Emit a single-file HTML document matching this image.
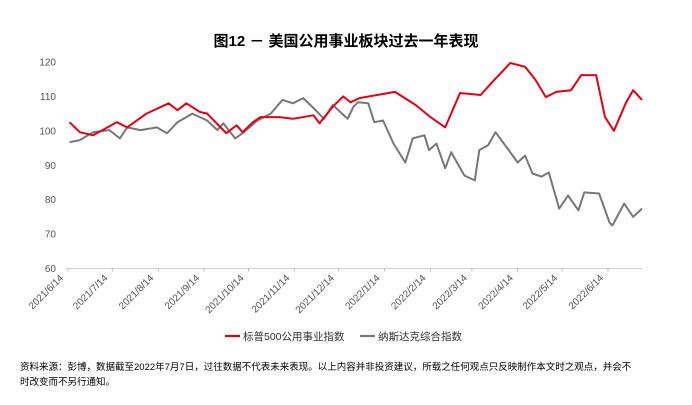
<!DOCTYPE html>
<html><head><meta charset="utf-8"><style>
body{margin:0;background:#fff;font-family:"Liberation Sans","Noto Sans CJK SC",sans-serif;}
</style></head><body>
<svg width="692" height="400" xmlns="http://www.w3.org/2000/svg" style="font-family:'Liberation Sans','Noto Sans CJK SC',sans-serif">
<text x="346" y="46" text-anchor="middle" font-size="15" font-weight="bold" fill="#000">图12 － 美国公用事业板块过去一年表现</text>
<g id="yaxis"></g>
<g id="xaxis"></g>
<g id="series"></g>
<g>
<line x1="225" y1="336" x2="240" y2="336" stroke="#e60012" stroke-width="2.2"/>
<text x="243" y="340" font-size="10.5" fill="#333">标普500公用事业指数</text>
<line x1="360" y1="336" x2="375" y2="336" stroke="#777" stroke-width="2.2"/>
<text x="378" y="340" font-size="10.5" fill="#333">纳斯达克综合指数</text>
</g>
<text x="20" y="370" font-size="9.5" fill="#000">资料来源：彭博，数据截至2022年7月7日，过往数据不代表未来表现。以上内容并非投资建议，所载之任何观点只反映制作本文时之观点，并会不</text>
<text x="20" y="385" font-size="9.5" fill="#000">时改变而不另行通知。</text>
</svg>
<script>
const yTicks=[60,70,80,90,100,110,120];
const xTickLabels=["2021/6/14","2021/7/14","2021/8/14","2021/9/14","2021/10/14","2021/11/14","2021/12/14","2022/1/14","2022/2/14","2022/3/14","2022/4/14","2022/5/14","2022/6/14"];
const xTickDays=[0,30,61,92,122,153,183,214,245,273,304,334,365];
const redDays=[1,8,17,33,40,53,68,74,80,89,94,107,114,118,125,130,143,152,166,170,179,186,191,197,221,235,245,255,265,279,286,293,299,309,316,323,330,340,347,357,363,369,377,382,388];
const redValues=[102.5,99.6,98.7,102.5,101,105,108,106,108,105.5,105,99.3,101.6,99.6,102.5,104,104,103.5,104.5,102.2,107,110,108.3,109.5,111.3,107.5,104,101,111,110.4,113.8,117,119.7,118.6,114.8,109.8,111.3,111.8,116.2,116.2,104,100,108,111.8,109];
const grayDays=[1,8,17,28,35,40,49,60,67,74,84,94,101,105,113,118,128,137,145,152,159,166,173,179,189,193,196,203,207,213,220,228,233,241,244,249,255,259,268,275,278,284,289,297,304,309,314,320,325,332,338,345,349,359,366,368,376,382,388];
const grayValues=[96.7,97.3,99.6,100.2,97.8,101,100.2,101,99.3,102.5,105,103,100.2,102.2,97.8,99.3,103,105,109,108,109.5,106.6,103.5,107.5,103.5,107,108.3,108,102.5,103,96.3,90.8,97.8,98.7,94.4,96.3,89.1,93.8,87,85.6,94.4,95.8,99.6,94.9,90.8,92.8,87.6,86.7,87.9,77.4,81.2,76.9,82.1,81.8,73.4,72.5,78.9,75,77.4];

const NS="http://www.w3.org/2000/svg";
const X0=68,X1=642,DMAX=388,Y0=268.5,Y1=62;
const xs=d=>X0+(X1-X0)*d/DMAX;
const ys=v=>Y0-(Y0-Y1)*(v-60)/60;
function mk(t,a,p){const e=document.createElementNS(NS,t);for(const k in a)e.setAttribute(k,a[k]);p.appendChild(e);return e;}
const ya=document.getElementById('yaxis');
yTicks.forEach(v=>{const t=mk('text',{x:56,y:ys(v)+3.5,'text-anchor':'end','font-size':10,fill:'#555'},ya);t.textContent=v;

});
const xa=document.getElementById('xaxis');
const base=mk('line',{x1:X0-2,y1:Y0,x2:X1,y2:Y0,stroke:'#d0d0d0','stroke-width':1},xa);


xTickDays.forEach((d,i)=>{const x=xs(d);
const tk=mk('line',{x1:x,y1:Y0,x2:x,y2:Y0+3,stroke:'#bbb'},xa);


const t=mk('text',{x:x-4,y:Y0+10,'text-anchor':'end','font-size':10,fill:'#555',transform:`rotate(-45 ${x-4} ${Y0+10})`},xa);t.textContent=xTickLabels[i];

});
const sg=document.getElementById('series');
function line(days,vals,col,name){const p=mk('polyline',{points:days.map((d,i)=>xs(d).toFixed(1)+','+ys(vals[i]).toFixed(1)).join(' '),fill:'none',stroke:col,'stroke-width':2,'stroke-linejoin':'round'},sg);

}
line(grayDays,grayValues,'#777','nasdaq-line');
line(redDays,redValues,'#e60012','sp500-utilities-line');
</script>
</body></html>
